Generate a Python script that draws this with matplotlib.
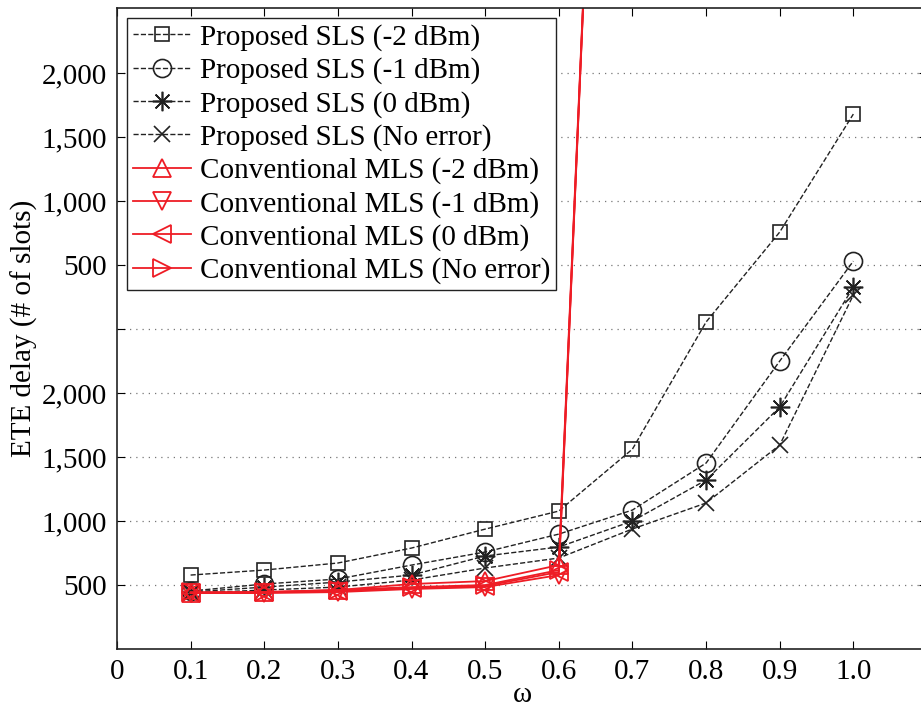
import numpy as np
import matplotlib
matplotlib.use('Agg')
import matplotlib.pyplot as plt

plt.rcParams['font.family'] = ['Liberation Serif', 'DejaVu Serif']

# values are read in the axis' own (broken) coordinates
omega = [0.1, 0.2, 0.3, 0.4, 0.5, 0.6, 0.7, 0.8, 0.9, 1.0]
sls_m2 = [578, 617, 672, 789, 937, 1078, 1562, 2555, 3258, 4180]
sls_m1 = [453, 508, 547, 656, 758, 898, 1086, 1453, 2250, 3031]
sls_0 = [445, 484, 523, 578, 727, 797, 1000, 1320, 1891, 2828]
sls_ne = [437, 461, 484, 539, 633, 711, 938, 1141, 1594, 2766]

omega_mls = [0.1, 0.2, 0.3, 0.4, 0.5, 0.6, 0.7]
mls_m2 = [437, 445, 461, 508, 531, 656, 14000]
mls_m1 = [437, 437, 445, 469, 484, 578, 14000]
mls_0 = [437, 445, 453, 477, 492, 602, 14000]
mls_ne = [445, 445, 461, 484, 500, 617, 14000]

ytick_pos = [500, 1000, 1500, 2000, 2500, 3000, 3500, 4000, 4500]
ytick_labels = ['500', '1,000', '1,500', '2,000', '', '500', '1,000', '1,500', '2,000']
xtick_pos = [0, 0.1, 0.2, 0.3, 0.4, 0.5, 0.6, 0.7, 0.8, 0.9, 1.0]
xtick_labels = ['0', '0.1', '0.2', '0.3', '0.4', '0.5', '0.6', '0.7', '0.8', '0.9', '1.0']

fig = plt.figure(figsize=(9.21, 7.14), dpi=100)
ax = fig.add_axes([0.127, 0.091, 0.8795, 0.898])

blk = dict(color='#222222', ls='--', lw=1.0, mfc='none', mec='#222222', mew=1.2)
ax.plot(omega, sls_m2, marker='s', ms=10, label='Proposed SLS (-2 dBm)', **blk)
ax.plot(omega, sls_m1, marker='o', ms=13, label='Proposed SLS (-1 dBm)', **blk)
ax.plot(omega, sls_0, marker=(8, 2, 0), ms=14, label='Proposed SLS (0 dBm)', **blk)
ax.plot(omega, sls_ne, marker='x', ms=11, label='Proposed SLS (No error)', **blk)

red = dict(color='#ee1c25', ls='-', lw=1.3, mfc='none', mec='#ee1c25', mew=1.3, ms=13)
ax.plot(omega_mls, mls_m2, marker='^', label='Conventional MLS (-2 dBm)', **red)
ax.plot(omega_mls, mls_m1, marker='v', label='Conventional MLS (-1 dBm)', **red)
ax.plot(omega_mls, mls_0, marker='<', label='Conventional MLS (0 dBm)', **red)
ax.plot(omega_mls, mls_ne, marker='>', label='Conventional MLS (No error)', **red)

ax.set_xlim(0, 1.1)
ax.set_ylim(0, 5010)
ax.set_xticks(xtick_pos)
ax.set_xticklabels(xtick_labels)
ax.set_yticks(ytick_pos)
ax.set_yticklabels(ytick_labels)
ax.tick_params(direction='in', top=True, right=True, labelsize=21, length=6, width=0.8, pad=7)
ax.yaxis.grid(True, ls=(0, (1, 4)), color='#777777', lw=0.9)
for s in ax.spines.values():
    s.set_linewidth(1.2)
    s.set_color('#222222')

ax.set_xlabel('ω', fontsize=21, labelpad=-2)
ax.set_ylabel('ETE delay (# of slots)', fontsize=21, labelpad=3)

leg = ax.legend(loc='upper left', fontsize=21, frameon=True, fancybox=False,
                edgecolor='#222222', framealpha=1, handlelength=2.0,
                labelspacing=0.22, borderpad=0.2, handletextpad=0.3,
                borderaxespad=0.35)
leg.get_frame().set_linewidth(1.0)

fig.savefig('out.png', dpi=100)
